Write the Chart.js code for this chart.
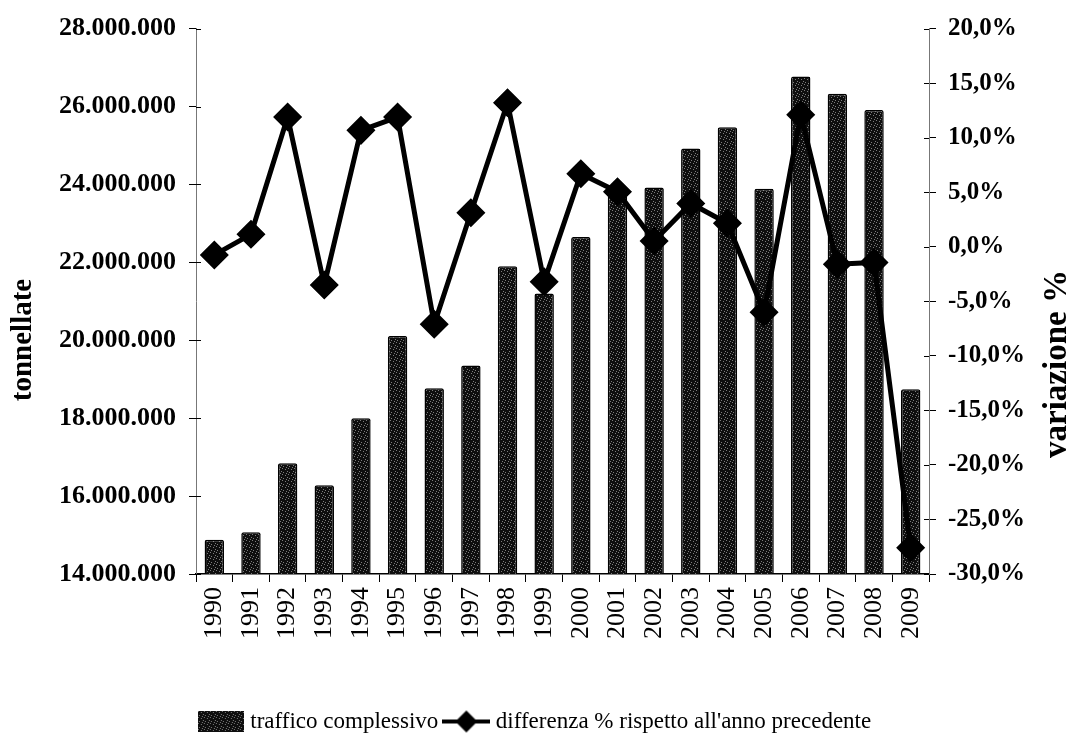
<!DOCTYPE html>
<html>
<head>
<meta charset="utf-8">
<script src="https://cdn.jsdelivr.net/npm/chart.js@4.4.1/dist/chart.umd.min.js"></script>
<style>
  html, body { margin: 0; padding: 0; background: #fff; }
</style>
</head>
<body>
<canvas id="trafficChart" width="1074" height="745"></canvas>
<script>
// Data
const years = ['1990', '1991', '1992', '1993', '1994', '1995', '1996', '1997', '1998', '1999',
               '2000', '2001', '2002', '2003', '2004', '2005', '2006', '2007', '2008', '2009'];
const traffic = [14880000, 15070000, 16840000, 16280000, 18000000, 20110000, 18770000, 19350000, 21900000, 21200000,
                 22650000, 23800000, 23920000, 24920000, 25470000, 23890000, 26770000, 26330000, 25910000, 18740000];
const changePct = [-0.75, 1.14, 11.89, -3.5, 10.67, 11.89, -7.1, 3.12, 13.2, -3.2,
                   6.7, 5.04, 0.53, 3.97, 2.15, -6.0, 12.1, -1.6, -1.44, -27.6];
const leftTicks = [14000000, 28000000, 2000000];   // min, max, step
const rightTicks = [-30, 20, 5];

const serif = "'Liberation Serif', 'Times New Roman', serif";

// dark speckled texture like the scanned bars
function makeTile() {
    const c = document.createElement('canvas');
    c.width = 6; c.height = 6;
    const g = c.getContext('2d');
    g.fillStyle = '#0e0e0e';
    g.fillRect(0, 0, 6, 6);
    g.fillStyle = '#7c7c7c';
    [[0, 0], [3, 1], [5, 3], [1, 4], [4, 5]].forEach(p => g.fillRect(p[0], p[1], 1, 1));
    return c;
}
const tile = makeTile();
const barPattern = document.createElement('canvas').getContext('2d').createPattern(tile, 'repeat');

// legend symbols
function barSymbol() {
    const c = document.createElement('canvas');
    c.width = 46; c.height = 21;
    const g = c.getContext('2d');
    g.fillStyle = g.createPattern(tile, 'repeat');
    g.fillRect(0, 0, 46, 21);
    return c;
}
function lineSymbol() {
    const c = document.createElement('canvas');
    c.width = 48; c.height = 24;
    const g = c.getContext('2d');
    g.strokeStyle = '#000';
    g.lineWidth = 4;
    g.beginPath(); g.moveTo(0, 12); g.lineTo(48, 12); g.stroke();
    g.fillStyle = '#000';
    g.beginPath(); g.moveTo(24, 1); g.lineTo(35, 12); g.lineTo(24, 23); g.lineTo(13, 12); g.closePath(); g.fill();
    return c;
}
const legendImgs = [barSymbol(), lineSymbol()];

const fmtTons = v => String(v).replace(/\B(?=(\d{3})+(?!\d))/g, '.');
const fmtPct = v => v.toFixed(1).replace('.', ',') + '%';

// axis titles + inner half of the value-axis tick marks
const axisExtras = {
    id: 'axisExtras',
    afterDraw(chart) {
        const ctx = chart.ctx;
        ctx.save();
        ctx.strokeStyle = '#000';
        ctx.lineWidth = 1;
        ['y', 'y1'].forEach(id => {
            const s = chart.scales[id];
            const x0 = id === 'y' ? s.right : s.left;
            const dir = id === 'y' ? 1 : -1;
            s.ticks.forEach(t => {
                const py = Math.round(s.getPixelForValue(t.value)) + 0.5;
                ctx.beginPath(); ctx.moveTo(x0, py); ctx.lineTo(x0 + dir * 5, py); ctx.stroke();
            });
        });
        ctx.restore();

        ctx.save();
        ctx.fillStyle = '#000';
        ctx.textAlign = 'center';
        ctx.textBaseline = 'middle';
        ctx.font = "bold 29px " + serif;
        ctx.translate(24, 340);
        ctx.rotate(-Math.PI / 2);
        ctx.fillText('tonnellate', 0, 0);
        ctx.restore();
        ctx.save();
        ctx.fillStyle = '#000';
        ctx.textAlign = 'center';
        ctx.textBaseline = 'middle';
        ctx.font = "bold 33px " + serif;
        ctx.translate(1057, 364);
        ctx.rotate(-Math.PI / 2);
        ctx.fillText('variazione %', 0, 0);
        ctx.restore();
    }
};

const ctx = document.getElementById('trafficChart').getContext('2d');
new Chart(ctx, {
    data: {
        labels: years,
        datasets: [
            {
                type: 'line',
                label: "differenza % rispetto all'anno precedente",
                data: changePct,
                yAxisID: 'y1',
                borderColor: '#000',
                backgroundColor: '#000',
                borderWidth: 5,
                tension: 0,
                pointStyle: 'rectRot',
                pointRadius: 11,
                pointBackgroundColor: '#000',
                pointBorderColor: '#000',
                order: 0
            },
            {
                type: 'bar',
                label: 'traffico complessivo',
                data: traffic,
                yAxisID: 'y',
                backgroundColor: barPattern,
                borderColor: '#000',
                borderWidth: 1.5,
                borderRadius: 2,
                borderSkipped: 'bottom',
                categoryPercentage: 1,
                barPercentage: 0.53,
                order: 1
            }
        ]
    },
    options: {
        responsive: false,
        animation: false,
        devicePixelRatio: 1,
        layout: { padding: { top: 24, bottom: 2, left: 0, right: 0 } },
        plugins: {
            tooltip: { enabled: false },
            legend: {
                position: 'bottom',
                labels: {
                    usePointStyle: true,
                    pointStyleWidth: 36,
                    padding: 10,
                    color: '#000',
                    font: { family: serif, size: 23 },
                    generateLabels: () => [
                        { text: 'traffico complessivo', pointStyle: legendImgs[0], fillStyle: '#000', strokeStyle: '#000', lineWidth: 0, hidden: false, datasetIndex: 1 },
                        { text: "differenza % rispetto all'anno precedente", pointStyle: legendImgs[1], fillStyle: '#000', strokeStyle: '#000', lineWidth: 0, hidden: false, datasetIndex: 0 }
                    ]
                }
            }
        },
        scales: {
            x: {
                grid: { drawOnChartArea: false, offset: true, tickLength: 8, color: '#000' },
                border: { color: '#000', width: 1.5 },
                ticks: {
                    color: '#000',
                    padding: 5,
                    maxRotation: 90,
                    minRotation: 90,
                    autoSkip: false,
                    font: { family: serif, size: 26 }
                },
                afterFit: s => { s.height = 126; }
            },
            y: {
                position: 'left',
                min: leftTicks[0],
                max: leftTicks[1],
                grid: { drawOnChartArea: false, tickLength: 7, color: '#000' },
                border: { color: '#777', dash: [2, 1], width: 1 },
                ticks: {
                    stepSize: leftTicks[2],
                    color: '#000',
                    padding: 13,
                    font: { family: serif, size: 26, weight: 'bold' },
                    callback: v => fmtTons(v)
                },
                afterFit: s => { s.width = 196; }
            },
            y1: {
                position: 'right',
                min: rightTicks[0],
                max: rightTicks[1],
                grid: { drawOnChartArea: false, tickLength: 7, color: '#000' },
                border: { color: '#777', dash: [2, 1], width: 1 },
                ticks: {
                    stepSize: rightTicks[2],
                    color: '#000',
                    padding: 12,
                    font: { family: serif, size: 25, weight: 'bold' },
                    callback: v => fmtPct(v)
                },
                afterFit: s => { s.width = 145; }
            }
        }
    },
    plugins: [axisExtras]
});
</script>
</body>
</html>
